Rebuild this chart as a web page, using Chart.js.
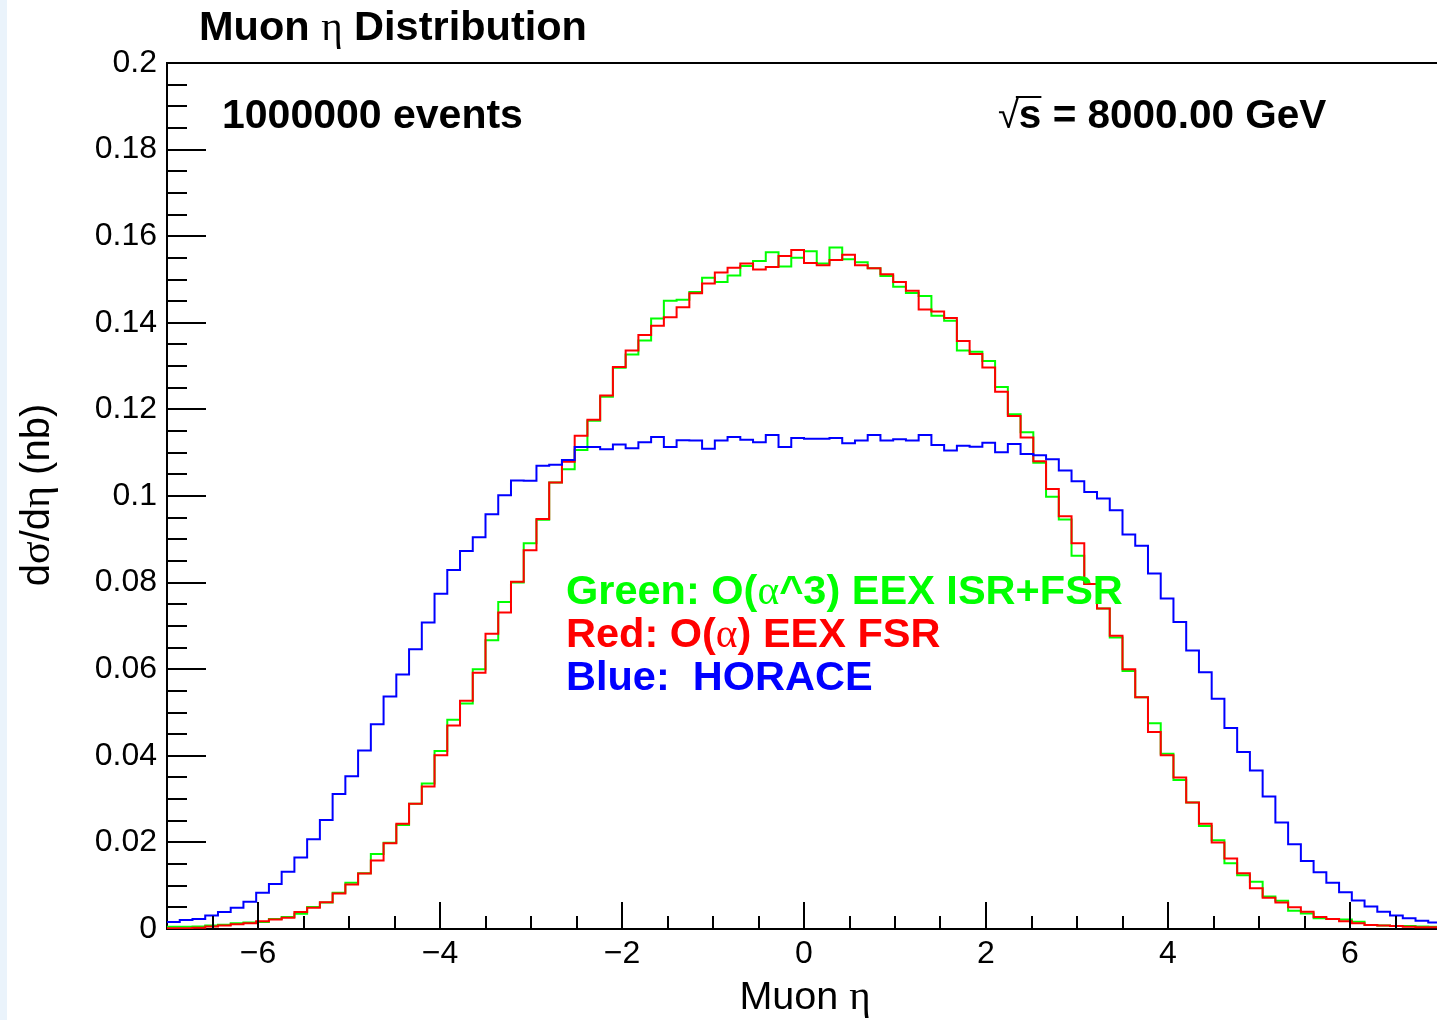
<!DOCTYPE html>
<html><head><meta charset="utf-8">
<script src="https://cdn.jsdelivr.net/npm/chart.js@4.4.1/dist/chart.umd.min.js"></script>
<style>
html,body{margin:0;padding:0;overflow:hidden;background:#fff;width:1437px;height:1020px}
#wrap{position:absolute;left:0;top:0;width:1445px;height:1020px}
</style></head><body><div id="wrap"><canvas id="c" width="1445" height="1020"></canvas></div>
<script>
// ---- data ----
const binLow = -7, binHigh = 7, nBins = 100;
const xTickValues = [-6, -4, -2, 0, 2, 4, 6];
const yTickLabels = ['0','0.02','0.04','0.06','0.08','0.1','0.12','0.14','0.16','0.18','0.2'];
const titleText = 'Muon';
const legendLabels = ['Green: O(', 'Red: O(', 'Blue:  HORACE'];

const blueValues = [
0.0016,0.0021,0.0023,0.0031,0.0039,0.0049,0.0063,0.0084,0.0104,0.0132,
0.0165,0.0207,0.0252,0.0312,0.0353,0.0412,0.0473,0.0537,0.0588,0.0646,
0.0708,0.0774,0.0829,0.0873,0.0905,0.0958,0.1002,0.1036,0.1035,0.1070,
0.1072,0.1083,0.1113,0.1113,0.1108,0.1119,0.1110,0.1124,0.1136,0.1113,
0.1129,0.1128,0.1109,0.1128,0.1136,0.1130,0.1124,0.1141,0.1113,0.1134,
0.1132,0.1132,0.1134,0.1122,0.1128,0.1141,0.1128,0.1131,0.1128,0.1141,
0.1118,0.1105,0.1116,0.1114,0.1123,0.1101,0.1120,0.1097,0.1094,0.1085,
0.1059,0.1034,0.1009,0.0994,0.0967,0.0911,0.0885,0.0821,0.0763,0.0709,
0.0643,0.0593,0.0532,0.0464,0.0409,0.0366,0.0306,0.0246,0.0196,0.0157,
0.0131,0.0107,0.0085,0.0066,0.0052,0.0040,0.0031,0.0025,0.0019,0.0015];

const redValues = [
0.0002,0.0002,0.0003,0.0006,0.0008,0.0011,0.0013,0.0018,0.0022,0.0026,
0.0039,0.0049,0.0062,0.0082,0.0103,0.0128,0.0158,0.0198,0.0243,0.0289,
0.0329,0.0401,0.0470,0.0527,0.0592,0.0682,0.0731,0.0802,0.0875,0.0947,
0.1031,0.1079,0.1139,0.1176,0.1232,0.1298,0.1336,0.1372,0.1393,0.1413,
0.1436,0.1468,0.1491,0.1516,0.1527,0.1537,0.1523,0.1529,0.1554,0.1568,
0.1538,0.1533,0.1545,0.1557,0.1533,0.1526,0.1512,0.1494,0.1474,0.1431,
0.1426,0.1411,0.1358,0.1328,0.1297,0.1241,0.1185,0.1135,0.1080,0.1016,
0.0953,0.0891,0.0797,0.0740,0.0677,0.0600,0.0535,0.0455,0.0401,0.0350,
0.0292,0.0243,0.0200,0.0163,0.0129,0.0094,0.0072,0.0061,0.0050,0.0040,
0.0028,0.0023,0.0018,0.0013,0.0009,0.0008,0.0007,0.0005,0.0004,0.0004];

const greenValues = [
0.0005,0.0005,0.0006,0.0008,0.0010,0.0013,0.0015,0.0016,0.0023,0.0028,
0.0035,0.0051,0.0061,0.0084,0.0107,0.0129,0.0173,0.0199,0.0240,0.0289,
0.0336,0.0411,0.0483,0.0521,0.0600,0.0667,0.0755,0.0800,0.0891,0.0945,
0.1031,0.1062,0.1106,0.1174,0.1229,0.1296,0.1327,0.1359,0.1410,0.1451,
0.1453,0.1471,0.1504,0.1494,0.1509,0.1531,0.1543,0.1563,0.1530,0.1550,
0.1565,0.1537,0.1574,0.1547,0.1540,0.1526,0.1508,0.1483,0.1469,0.1462,
0.1416,0.1405,0.1336,0.1333,0.1312,0.1252,0.1189,0.1147,0.1077,0.0998,
0.0946,0.0862,0.0797,0.0740,0.0673,0.0596,0.0535,0.0475,0.0405,0.0344,
0.0292,0.0238,0.0205,0.0152,0.0124,0.0109,0.0075,0.0065,0.0042,0.0036,
0.0025,0.0023,0.0022,0.0017,0.0009,0.0008,0.0007,0.0007,0.0006,0.0005];

// ---- build ----
const binEdges = Array.from({length: nBins + 1}, (_, i) => binLow + i * (binHigh - binLow) / nBins);
function toPoints(vals) {
  const pts = vals.map((v, i) => ({x: binEdges[i], y: v}));
  pts.push({x: binEdges[nBins], y: vals[nBins - 1]});
  return pts;
}

const SANS = '"Liberation Sans", Arial, Helvetica, sans-serif';
const SERIF = '"Liberation Serif", "Times New Roman", serif';

function drawRuns(ctx, runs, x, y, align) {
  let w = 0;
  runs.forEach(r => { ctx.font = r[1]; w += ctx.measureText(r[0]).width; });
  let cx = align === 'center' ? x - w / 2 : (align === 'right' ? x - w : x);
  runs.forEach(r => {
    ctx.font = r[1]; ctx.fillStyle = r[2] || '#000';
    ctx.fillText(r[0], cx, y);
    cx += ctx.measureText(r[0]).width;
  });
  return w;
}

const rootPlugin = {
  id: 'rootStyle',
  beforeDraw(chart) {
    const ctx = chart.ctx;
    ctx.save();
    ctx.fillStyle = '#eaf3fb';
    ctx.fillRect(0, 0, 7, chart.height);
    ctx.restore();
  },
  afterDraw(chart) {
    const ctx = chart.ctx;
    const xs = chart.scales.x, ys = chart.scales.y;
    const a = chart.chartArea;
    ctx.save();
    ctx.strokeStyle = '#000';
    ctx.lineWidth = 2;
    // top frame
    ctx.beginPath(); ctx.moveTo(a.left, a.top); ctx.lineTo(a.right, a.top); ctx.stroke();
    // y ticks (inside)
    for (let k = 1; k <= 40; k++) {
      const v = k * 0.005;
      const py = Math.round(ys.getPixelForValue(v));
      const len = (k % 4 === 0) ? 39 : 20;
      ctx.beginPath(); ctx.moveTo(a.left, py); ctx.lineTo(a.left + len, py); ctx.stroke();
    }
    // x ticks (inside)
    for (let k = 1; k < 28; k++) {
      const v = -7 + k * 0.5;
      const px = Math.round(xs.getPixelForValue(v));
      const major = Math.abs(v % 2) < 1e-9;
      const len = major ? 27 : 13;
      ctx.beginPath(); ctx.moveTo(px, a.bottom); ctx.lineTo(px, a.bottom - len); ctx.stroke();
    }
    ctx.textBaseline = 'alphabetic';
    // title
    drawRuns(ctx, [[titleText + ' ', 'bold 41.5px ' + SANS], ['\u03b7', '41px ' + SERIF], [' Distribution', 'bold 41.5px ' + SANS]], 199, 40, 'left');
    // annotations
    drawRuns(ctx, [['1000000 events', 'bold 41px ' + SANS]], 222, 128, 'left');
    // sqrt(s)
    ctx.font = '38px ' + SANS;
    const rw = ctx.measureText('\u221a').width;
    drawRuns(ctx, [['\u221a', '38px ' + SANS], ['s = 8000.00 GeV', 'bold 40.5px ' + SANS]], 998, 128, 'left');
    ctx.font = 'bold 40.5px ' + SANS;
    const sw = ctx.measureText('s').width;
    ctx.lineWidth = 2;
    ctx.beginPath(); ctx.moveTo(998 + rw - 3, 97); ctx.lineTo(998 + rw + sw, 97); ctx.stroke();
    // legend text
    const B = 'bold 41.5px ' + SANS, G = '41.5px ' + SERIF;
    drawRuns(ctx, [[legendLabels[0], B, '#00ff00'], ['\u03b1', G, '#00ff00'], ['^3) EEX ISR+FSR', B, '#00ff00']], 566, 604, 'left');
    drawRuns(ctx, [[legendLabels[1], B, '#ff0000'], ['\u03b1', G, '#ff0000'], [') EEX FSR', B, '#ff0000']], 566, 647, 'left');
    drawRuns(ctx, [[legendLabels[2], B, '#0000ff']], 566, 690, 'left');
    // x title
    drawRuns(ctx, [['Muon ', '39.5px ' + SANS], ['\u03b7', '41px ' + SERIF]], 805, 1009, 'center');
    // y title
    ctx.translate(49, 495);
    ctx.rotate(-Math.PI / 2);
    drawRuns(ctx, [['d', '40px ' + SANS], ['\u03c3', '42px ' + SERIF], ['/d', '40px ' + SANS], ['\u03b7', '42px ' + SERIF], [' (nb)', '40px ' + SANS]], 0, 0, 'center');
    ctx.restore();
  }
};

new Chart(document.getElementById('c').getContext('2d'), {
  type: 'line',
  data: {
    datasets: [
      {label: 'Blue: HORACE', data: toPoints(blueValues), borderColor: '#0000ff', borderWidth: 2, stepped: 'before', pointRadius: 0, fill: false, order: 0},
      {label: 'Red: O(alpha) EEX FSR', data: toPoints(redValues), borderColor: '#ff0000', borderWidth: 2, stepped: 'before', pointRadius: 0, fill: false, order: 1},
      {label: 'Green: O(alpha^3) EEX ISR+FSR', data: toPoints(greenValues), borderColor: '#00ff00', borderWidth: 2, stepped: 'before', pointRadius: 0, fill: false, order: 2}
    ]
  },
  options: {
    responsive: false,
    animation: false,
    devicePixelRatio: 1,
    layout: {padding: {top: 63, right: 4, left: 0, bottom: 0}},
    plugins: {legend: {display: false}, tooltip: {enabled: false}, title: {display: false}},
    scales: {
      x: {
        type: 'linear', min: binLow, max: binHigh,
        afterBuildTicks: s => { s.ticks = xTickValues.map(v => ({value: v})); },
        afterFit: s => { s.height = 91; },
        grid: {display: false, drawTicks: false},
        border: {display: true, color: '#000', width: 2},
        ticks: {
          font: {family: SANS, size: 32}, color: '#000', padding: 6, maxRotation: 0, autoSkip: false,
          callback: v => (v < 0 ? '\u2212' + Math.abs(v) : String(v))
        }
      },
      y: {
        type: 'linear', min: 0, max: 0.2,
        afterBuildTicks: s => { s.ticks = yTickLabels.map((t, i) => ({value: i * 0.02})); },
        afterFit: s => { s.width = 167; },
        grid: {display: false, drawTicks: false},
        border: {display: true, color: '#000', width: 2},
        ticks: {
          font: {family: SANS, size: 32}, color: '#000', padding: 10, autoSkip: false,
          callback: (v, i) => yTickLabels[Math.round(v / 0.02)]
        }
      }
    }
  },
  plugins: [rootPlugin]
});
</script>
</body></html>
